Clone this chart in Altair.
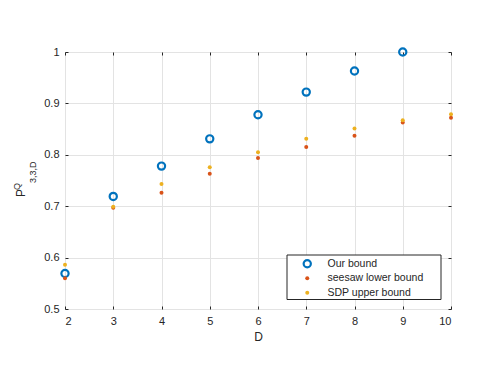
import altair as alt
import pandas as pd

D = [2, 3, 4, 5, 6, 7, 8, 9, 10]
our_bound = [0.569, 0.719, 0.778, 0.831, 0.878, 0.922, 0.963, 1.000, None]
seesaw_lower = [0.560, 0.697, 0.726, 0.763, 0.794, 0.815, 0.837, 0.863, 0.872]
sdp_upper = [0.586, 0.699, 0.743, 0.776, 0.805, 0.831, 0.851, 0.867, 0.879]
series_names = ["Our bound", "seesaw lower bound", "SDP upper bound"]
series_colors = ["#0072BD", "#D95319", "#EDB120"]
x_ticks = [2, 3, 4, 5, 6, 7, 8, 9, 10]
y_ticks = [0.5, 0.6, 0.7, 0.8, 0.9, 1.0]

rows = []
for name, vals in zip(series_names, [our_bound, seesaw_lower, sdp_upper]):
    for d, v in zip(D, vals):
        if v is not None:
            rows.append({"D": d, "P": v, "series": name})
df = pd.DataFrame(rows)

FONT = "Liberation Sans"
TXT = "#262626"

xs = alt.Scale(domain=[2, 10], nice=False, zero=False)
ys = alt.Scale(domain=[0.5, 1.0], nice=False, zero=False)

legend = alt.Legend(
    title=None, orient="none", legendX=222, legendY=203,
    padding=2, symbolOffset=13, labelFont=FONT, labelFontSize=10.5,
    labelColor=TXT, rowPadding=0.5, clipHeight=13.5, labelOffset=15,
    labelLimit=300,
)

# frame of the legend box (decoration)
legend_box = alt.Chart(pd.DataFrame({"k": [0]})).mark_rect(
    fill="white", stroke="#262626", strokeWidth=1
).encode(x=alt.value(222), x2=alt.value(376), y=alt.value(203), y2=alt.value(247.5))

main = alt.Chart(df).mark_point(shape="circle", opacity=1).encode(
    x=alt.X("D:Q", scale=xs, axis=alt.Axis(
        values=x_ticks, grid=True, ticks=False, domain=False, title="D",
        labelFont=FONT, labelFontSize=11, labelColor=TXT, labelPadding=6,
        titleFont=FONT, titleFontSize=12, titleFontWeight="normal",
        titleColor=TXT, titlePadding=5, gridColor="#e3e3e3")),
    y=alt.Y("P:Q", scale=ys, axis=alt.Axis(
        values=y_ticks, grid=True, ticks=False, domain=False, title=None,
        format=".1~f", labelFont=FONT, labelFontSize=11, labelColor=TXT,
        labelPadding=6, gridColor="#e3e3e3")),
    stroke=alt.Stroke("series:N", scale=alt.Scale(domain=series_names, range=series_colors), legend=legend),
    fill=alt.Fill("series:N", scale=alt.Scale(domain=series_names, range=["transparent", series_colors[1], series_colors[2]]), legend=legend),
    size=alt.Size("series:N", scale=alt.Scale(type="ordinal", domain=series_names, range=[52, 16, 16]), legend=legend),
    strokeWidth=alt.StrokeWidth("series:N", scale=alt.Scale(type="ordinal", domain=series_names, range=[2.2, 0, 0]), legend=legend),
)

def tick_layer(xorient, yorient):
    return alt.Chart(df).mark_point(opacity=0).encode(
        x=alt.X("D:Q", scale=xs, axis=alt.Axis(
            orient=xorient, offset=-3, tickSize=3, values=x_ticks, labels=False,
            domain=False, grid=False, title=None, tickColor=TXT)),
        y=alt.Y("P:Q", scale=ys, axis=alt.Axis(
            orient=yorient, offset=-3, tickSize=3, values=y_ticks, labels=False,
            domain=False, grid=False, title=None, tickColor=TXT)),
    )

p_txt = alt.Chart(pd.DataFrame({"t": ["P"]})).mark_text(angle=270, font=FONT, fontSize=12, color=TXT, align="center", baseline="alphabetic").encode(
    text="t:N", x=alt.value(-40), y=alt.value(141))
q_txt = alt.Chart(pd.DataFrame({"t": ["Q"]})).mark_text(angle=270, font=FONT, fontSize=9, color=TXT, align="left", baseline="alphabetic").encode(
    text="t:N", x=alt.value(-45), y=alt.value(138))
s_txt = alt.Chart(pd.DataFrame({"t": ["3,3,D"]})).mark_text(angle=270, font=FONT, fontSize=9, color=TXT, align="left", baseline="alphabetic").encode(
    text="t:N", x=alt.value(-29), y=alt.value(131))

chart = alt.layer(main, tick_layer("bottom", "left"), tick_layer("top", "right"), legend_box, p_txt, q_txt, s_txt).resolve_axis(
    x="independent", y="independent"
).properties(
    width=386, height=257, autosize="none",
    padding={"left": 57, "top": 44, "right": 39, "bottom": 57},
).configure_view(stroke="#4d4d4d", strokeWidth=1).configure(background="white")

chart.save("out.html", embed_options={"renderer": "svg", "actions": False})
